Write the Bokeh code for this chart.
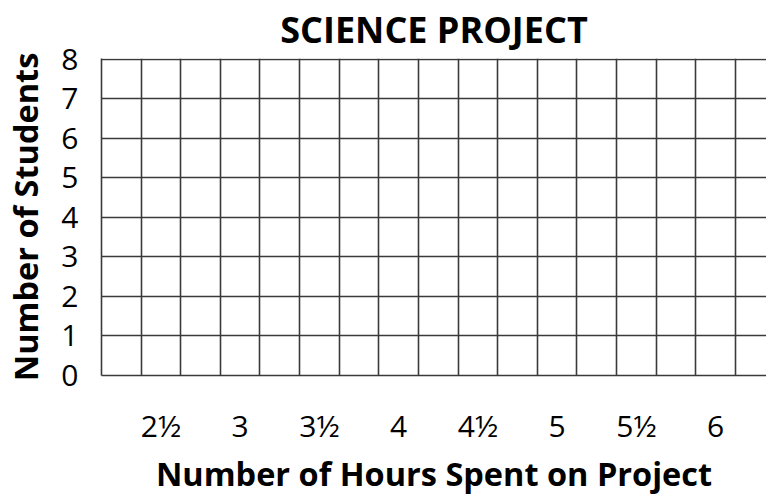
from bokeh.plotting import figure
from bokeh.models import FixedTicker, Range1d
from bokeh.embed import file_html
from bokeh.resources import INLINE

# ---- data (empty frequency grid) ----
hour_values = [2.5, 3.0, 3.5, 4.0, 4.5, 5.0, 5.5, 6.0]
hour_labels = ["2½", "3", "3½", "4", "4½", "5", "5½", "6"]
student_ticks = [0, 1, 2, 3, 4, 5, 6, 7, 8]
cell_edges = [2.125 + 0.25 * i for i in range(17)]  # vertical grid lines (quarter-hour cells)

TITLE = "SCIENCE PROJECT"
XLABEL = "Number of Hours Spent on Project"
YLABEL = "Number of Students"

LINE = "#3a3a3a"
FONT = "Open Sans"

p = figure(width=766, height=498, output_backend="svg", toolbar_location=None,
           x_range=Range1d(2.125, 6.321), y_range=Range1d(0, 8.02),
           min_border_left=101, min_border_right=0, min_border_top=58, min_border_bottom=122)

p.outline_line_color = None
p.background_fill_color = "white"
p.border_fill_color = "white"

p.title.text = TITLE
p.title.align = "center"
p.title.vertical_align = "top"
p.title.text_font = FONT
p.title.text_font_style = "bold"
p.title.text_font_size = "36px"
p.title.text_color = "black"
p.title.standoff = 5

# grids
p.xgrid.ticker = FixedTicker(ticks=cell_edges)
p.ygrid.ticker = FixedTicker(ticks=student_ticks)
for g in (p.xgrid, p.ygrid):
    g.grid_line_color = LINE
    g.grid_line_width = 1.6
    g.grid_line_alpha = 1.0

# x axis
xa = p.xaxis[0]
xa.ticker = FixedTicker(ticks=hour_values)
xa.major_label_overrides = {v: l for v, l in zip(hour_values, hour_labels)}
xa.axis_label = XLABEL
xa.axis_label_text_font = FONT
xa.axis_label_text_font_style = "bold"
xa.axis_label_text_font_size = "32.5px"
xa.axis_label_text_color = "black"
xa.axis_label_standoff = 2
xa.major_label_text_font = FONT
xa.major_label_text_font_size = "30px"
xa.major_label_text_color = "black"
xa.major_label_standoff = 29
xa.major_tick_out = 0
xa.major_tick_in = 0
xa.minor_tick_out = 0
xa.minor_tick_in = 0
xa.axis_line_color = LINE
xa.axis_line_width = 1.6

# y axis
ya = p.yaxis[0]
ya.ticker = FixedTicker(ticks=student_ticks)
ya.axis_label = YLABEL
ya.axis_label_text_font = FONT
ya.axis_label_text_font_style = "bold"
ya.axis_label_text_font_size = "32.5px"
ya.axis_label_text_color = "black"
ya.axis_label_standoff = 10
ya.major_label_text_font = FONT
ya.major_label_text_font_size = "30px"
ya.major_label_text_color = "black"
ya.major_label_standoff = 23
ya.major_tick_out = 0
ya.major_tick_in = 0
ya.minor_tick_out = 0
ya.minor_tick_in = 0
ya.axis_line_color = LINE
ya.axis_line_width = 1.6

open("out.html", "w").write(file_html(p, INLINE))
